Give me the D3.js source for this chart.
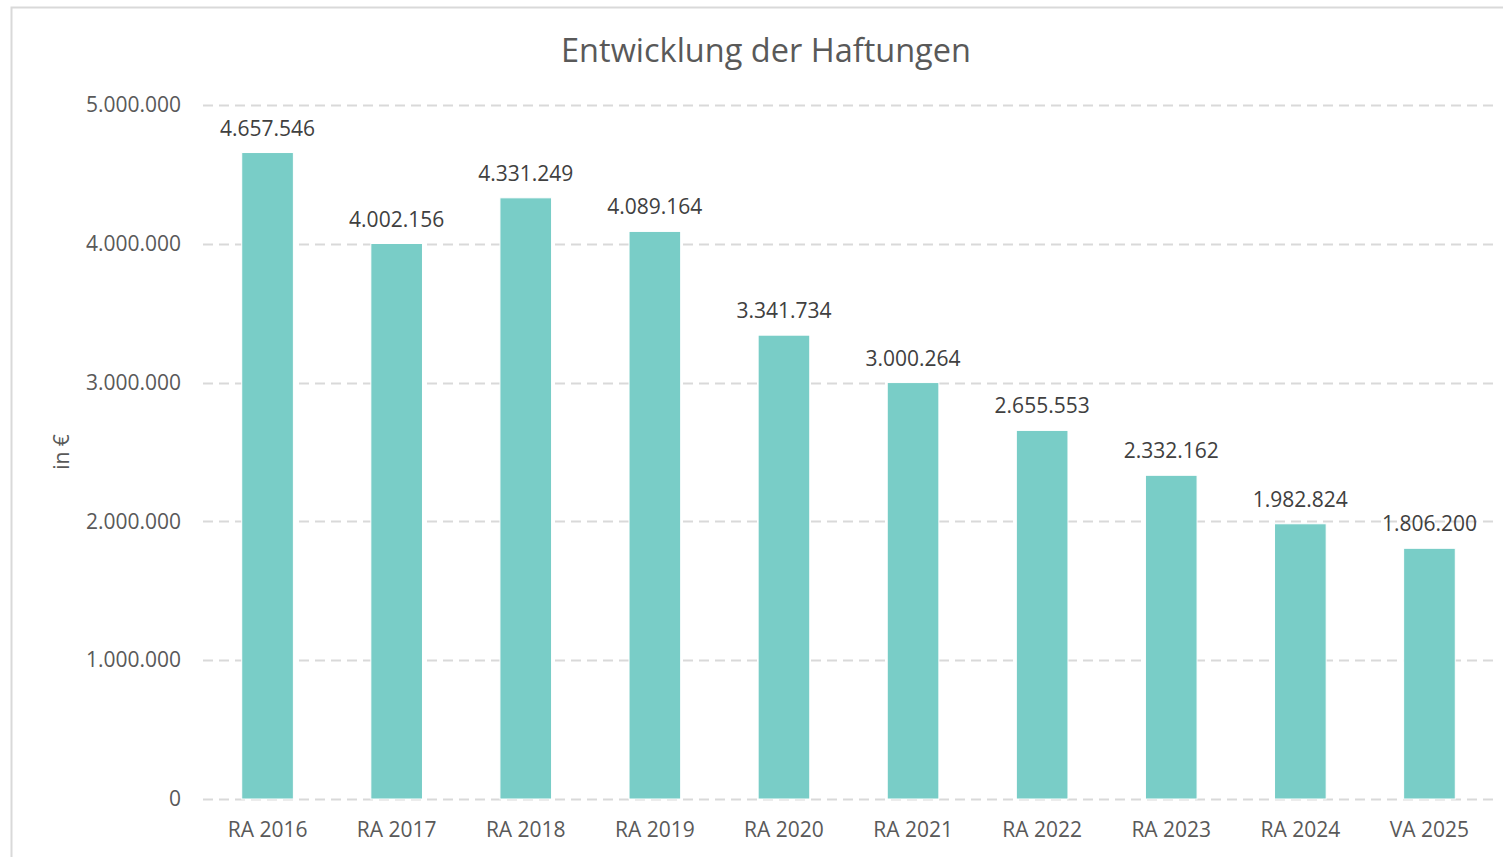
<!DOCTYPE html>
<html>
<head>
<meta charset="utf-8">
<script src="https://cdn.jsdelivr.net/npm/d3@7"></script>
<style>
  body { margin: 0; background: #fff; }
  text { font-family: "Open Sans", sans-serif; }
</style>
</head>
<body>
<div id="chart"></div>
<script>
// chart data
var categories = ["RA 2016", "RA 2017", "RA 2018", "RA 2019", "RA 2020",
                  "RA 2021", "RA 2022", "RA 2023", "RA 2024", "VA 2025"];
var values = [4657546, 4002156, 4331249, 4089164, 3341734,
              3000264, 2655553, 2332162, 1982824, 1806200];
var yTicks = [0, 1000000, 2000000, 3000000, 4000000, 5000000];

var W = 1503, H = 857;
var margin = {top: 105, right: 9, bottom: 58, left: 203},
    width = W - margin.left - margin.right,
    height = H - margin.top - margin.bottom;

// german number format
var de = d3.formatLocale({decimal: ",", thousands: ".", grouping: [3], currency: ["", " €"]});
var fmt = de.format(",.0f");

var svg = d3.select("#chart")
  .append("svg")
    .attr("width", W)
    .attr("height", H);

// chart area border
svg.append("rect")
  .attr("x", 11.5).attr("y", 7.5)
  .attr("width", W + 20).attr("height", H + 20)
  .attr("fill", "none")
  .attr("stroke", "#d9d9d9")
  .attr("stroke-width", 2);

var g = svg.append("g")
  .attr("transform", "translate(" + margin.left + "," + margin.top + ")");

var x = d3.scaleBand()
  .domain(categories)
  .range([0, width])
  .paddingInner(0.6)
  .paddingOuter(0.3);

var y = d3.scaleLinear()
  .domain([0, 5000000])
  .range([height, 0]);

// gridlines
g.append("g")
  .selectAll("line")
  .data(yTicks)
  .enter()
  .append("line")
    .attr("x1", 0)
    .attr("x2", width)
    .attr("y1", function(d) { return Math.round(y(d)) + 0.5; })
    .attr("y2", function(d) { return Math.round(y(d)) + 0.5; })
    .attr("stroke", "#d9d9d9")
    .attr("stroke-width", 2)
    .attr("stroke-dasharray", "10,6");

// y axis
var yAxis = g.append("g")
  .call(d3.axisLeft(y).tickValues(yTicks).tickFormat(fmt).tickSize(0).tickPadding(22));
yAxis.select(".domain").remove();
yAxis.selectAll("text")
  .attr("font-size", "21px")
  .attr("fill", "#595959")
  .style("font-family", "'Open Sans', sans-serif");

// x axis
var xAxis = g.append("g")
  .attr("transform", "translate(0," + height + ")")
  .call(d3.axisBottom(x).tickSize(0).tickPadding(23));
xAxis.select(".domain").remove();
xAxis.selectAll("text")
  .attr("font-size", "21px")
  .attr("fill", "#595959")
  .style("font-family", "'Open Sans', sans-serif");

// bars
g.append("g")
  .selectAll("rect")
  .data(values)
  .enter()
  .append("rect")
    .attr("x", function(d, i) { return x(categories[i]); })
    .attr("y", function(d) { return y(d); })
    .attr("width", x.bandwidth())
    .attr("height", function(d) { return height - y(d); })
    .attr("fill", "#79cdc7")
    .attr("stroke", "#ffffff")
    .attr("stroke-width", 1);

// value labels
g.append("g")
  .selectAll("text")
  .data(values)
  .enter()
  .append("text")
    .attr("x", function(d, i) { return x(categories[i]) + x.bandwidth() / 2; })
    .attr("y", function(d) { return y(d) - 17; })
    .attr("text-anchor", "middle")
    .attr("font-size", "21px")
    .attr("fill", "#404040")
    .text(function(d) { return fmt(d); });

// title
svg.append("text")
  .attr("x", 766)
  .attr("y", 62)
  .attr("text-anchor", "middle")
  .attr("font-size", "32.5px")
  .attr("fill", "#595959")
  .text("Entwicklung der Haftungen");

// y axis label
svg.append("text")
  .attr("transform", "translate(69,452) rotate(-90)")
  .attr("text-anchor", "middle")
  .attr("font-size", "21px")
  .attr("fill", "#595959")
  .text("in €");
</script>
</body>
</html>
